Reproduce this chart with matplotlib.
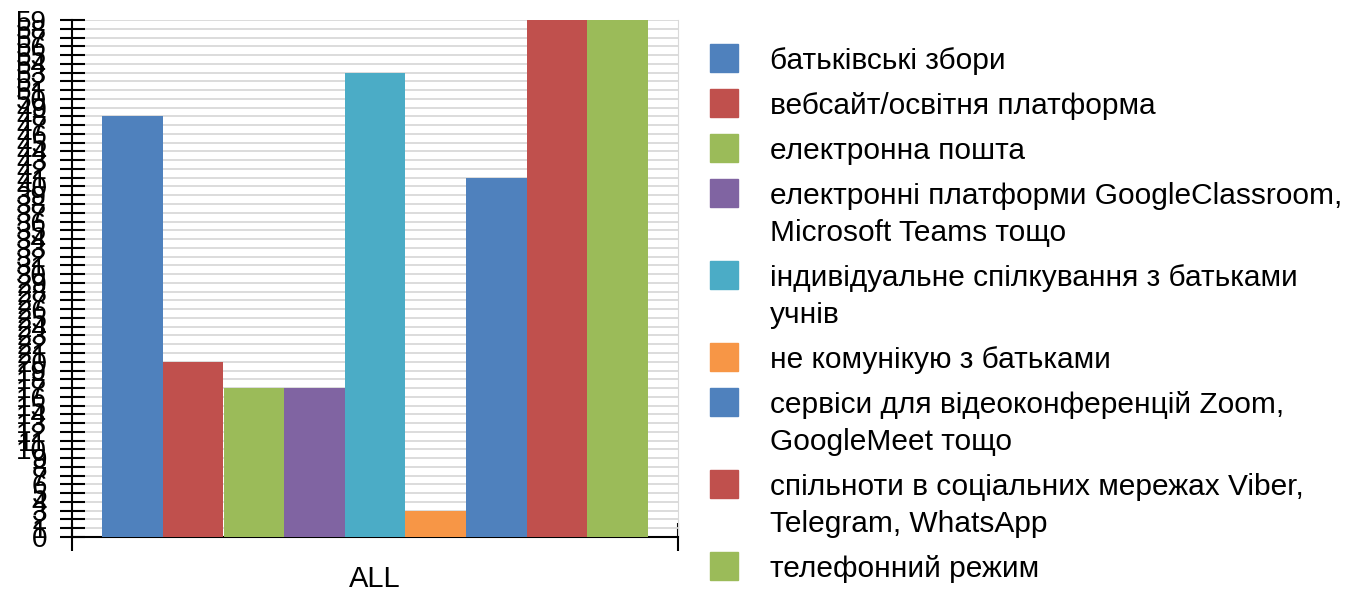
import numpy as np
import matplotlib
matplotlib.use("Agg")
import matplotlib.pyplot as plt
from matplotlib.patches import Rectangle

plt.rcParams['font.family'] = ['Liberation Sans', 'DejaVu Sans']

# data
categories = [
    "батьківські збори",
    "вебсайт/освітня платформа",
    "електронна пошта",
    "електронні платформи GoogleClassroom,\nMicrosoft Teams тощо",
    "індивідуальне спілкування з батьками\nучнів",
    "не комунікую з батьками",
    "сервіси для відеоконференцій Zoom,\nGoogleMeet тощо",
    "спільноти в соціальних мережах Viber,\nTelegram, WhatsApp",
    "телефонний режим",
]
values = [48, 20, 17, 17, 53, 3, 41, 59, 59]
colors = ["#4F81BD", "#C0504D", "#9BBB59", "#8064A2", "#4BACC6",
          "#F79646", "#4F81BD", "#C0504D", "#9BBB59"]
group_label = "ALL"
y_ticks = list(range(0, 60))

fig = plt.figure(figsize=(13.56, 5.91), dpi=100)
ax = fig.add_axes([72 / 1356, 54 / 591, 606 / 1356, 517 / 591])

n = len(values)
width = 0.9 / n
offsets = (np.arange(n) - (n - 1) / 2) * width
ax.bar(offsets, values, width=width, color=colors, zorder=3)

ax.set_xlim(-0.5, 0.5)
ax.set_ylim(0, max(y_ticks))
ax.set_yticks(y_ticks)
ax.set_yticklabels([str(t) for t in y_ticks], fontsize=20)
ax.yaxis.grid(True, color="#d9d9d9", linewidth=1.3, zorder=0)
ax.tick_params(axis="y", direction="inout", length=18, width=1.5, pad=9)

ax.set_xticks([0])
ax.set_xticklabels([group_label], fontsize=21)
ax.tick_params(axis="x", which="major", length=0, pad=20)
ax.set_xticks([-0.5, 0.5], minor=True)
ax.tick_params(axis="x", which="minor", direction="inout", length=20, width=1.5)

ax.spines["top"].set_visible(False)
ax.spines["right"].set_color("#d9d9d9")
ax.spines["left"].set_linewidth(1.5)
ax.spines["bottom"].set_linewidth(1.5)

# legend drawn by hand so the swatch lines up with the first text line
W, H = 1356, 591
y = 59
for label, col in zip(categories, colors):
    lines = label.split("\n")
    fig.patches.append(Rectangle((710 / W, 1 - (y + 13) / H), 28 / W, 28 / H,
                                 transform=fig.transFigure, color=col))
    for k, line in enumerate(lines):
        fig.text(770 / W, 1 - (y + 2 + k * 37) / H, line, fontsize=21.5,
                 va="center", ha="left")
    y += 45 + 37 * (len(lines) - 1)

fig.savefig("out.png", dpi=100)
